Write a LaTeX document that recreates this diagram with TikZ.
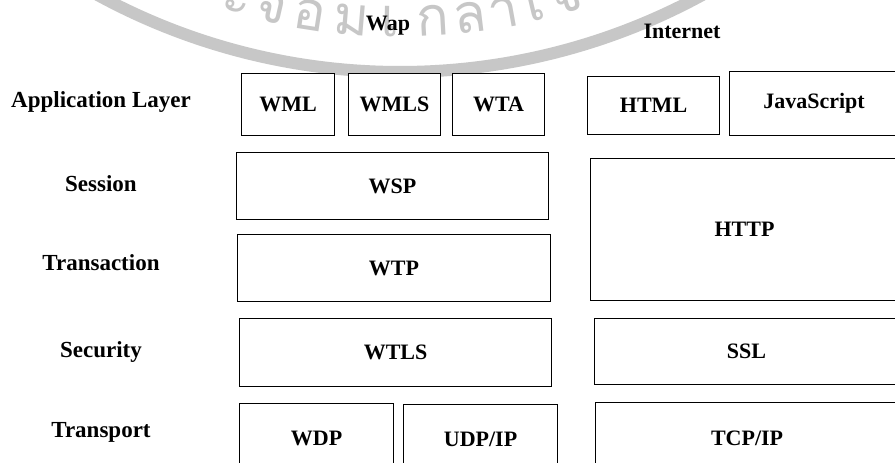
\documentclass[tikz,border=0pt]{standalone}
\usepackage{fontspec}
\setmainfont{Liberation Serif}
\newfontfamily\thaifont[Script=Thai]{Loma}
\usepackage{tikz}

\begin{document}
\begin{tikzpicture}[x=1pt, y=-1pt,
    every node/.style={font=\bfseries\fontsize{22}{24}\selectfont},
    blk/.style={draw=black, fill=white, line width=1.1pt, inner sep=0pt, anchor=north west},
    lyr/.style={font=\bfseries\fontsize{23}{25}\selectfont},
    wmtxt/.style={text=black!22, anchor=base, font=\thaifont\fontsize{54}{54}\selectfont},
    wmring/.style={draw=black!22, line width=12pt}
]
\path[use as bounding box, fill=white] (0,0) rectangle (895,463);
\clip (0,0) rectangle (895,463);
% watermark behind everything
\draw[wmring] (400,-560) ++(60:632) arc[start angle=60, end angle=120, radius=632];
\foreach \ch/\a [count=\i] in {ะ/-16.2, จ/-12.8, อ/-8.9, ม/-4.8, เ/-1.0, ก/3.2, ล้/6.9, า/10.3, เ/13.4, จ้/16.6}{
    \path (400,-560) ++(90-\a:597) node[wmtxt, rotate=\a] (w\i) {\ch};
}
% column headings
\node (wap) at (388,26) {Wap};
\node (inet) at (682,31) {Internet};
% layer names on the left
\foreach \nm/\y/\txt in {app/102/Application Layer, ses/184/Session, trn/263/Transaction, sec/352/Security, tsp/432/Transport}{
    \node[lyr] (\nm) at (101,\y) {\txt};
}
% Wap stack
\foreach \nm/\x/\y/\w/\h/\txt in {wml/241/73/93/62/WML, wmls/348/73/92/62/WMLS, wta/452/73/92/62/WTA,
        wsp/236/152/312/67/WSP, wtp/237/234/313/67/WTP, wtls/239/318/312/68/WTLS,
        wdp/239/403/154/70/WDP, udp/403/404/154/70/{UDP/IP}}{
    \node[blk, minimum width=\w, minimum height=\h] (\nm) at (\x,\y) {\txt};
}
% Internet stack, running off the right edge
\foreach \nm/\x/\y/\w/\h/\txt in {html/587/76/132/58/HTML, js/729/71/169/64/JavaScript,
        http/590/158/308/142/HTTP, ssl/594/318/304/66/SSL, tcp/595/402/303/71/{TCP/IP}}{
    \node[blk, minimum width=\w, minimum height=\h] (\nm) at (\x,\y) {\txt};
}
\end{tikzpicture}
\end{document}
